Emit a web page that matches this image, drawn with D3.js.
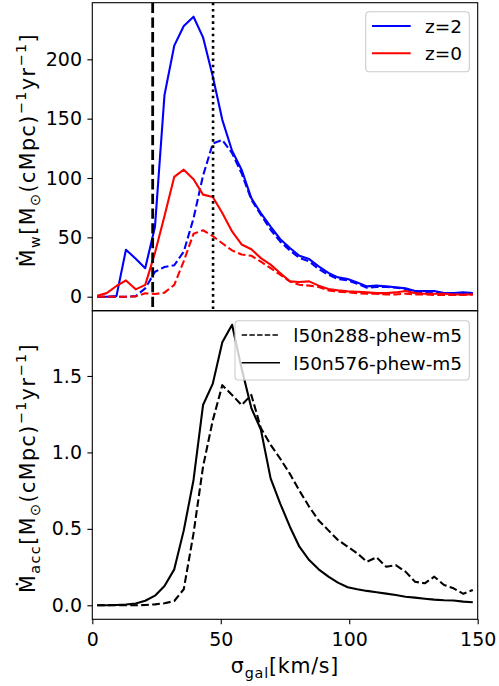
<!DOCTYPE html>
<html lang="en">
<head>
<meta charset="utf-8">
<title>Outflow and accretion rate vs sigma_gal</title>
<script src="https://d3js.org/d3.v7.min.js"></script>
<style>
  body { margin: 0; background: #fff; }
  svg text { font-family: "DejaVu Sans", sans-serif; fill: #000; }
</style>
</head>
<body>
<svg id="chart"></svg>
<script>

// bin centres of sigma_gal [km/s]
var sigmaGal = [1.9, 5.6, 9.4, 13.1, 16.9, 20.6, 24.4, 28.1, 31.9, 35.6,
                39.4, 43.1, 46.9, 50.6, 54.4, 58.1, 61.9, 65.6, 69.4, 73.1,
                76.9, 80.6, 84.4, 88.1, 91.9, 95.6, 99.4, 103.1, 106.9, 110.6,
                114.4, 118.1, 121.9, 125.6, 129.4, 133.1, 136.9, 140.6, 144.4, 148.1];

// top panel: wind rate, solid = l50n576, dashed = l50n288
var windZ2Hi = [0, 0, 0.5, 39.6, 32, 24, 59, 170, 211.5, 228,
                235.9, 218.5, 185.6, 149, 123, 107, 83, 70.5, 59, 48.6,
                41, 34.5, 31.7, 25.5, 20, 16.3, 14.9, 12, 8.7, 9.3,
                8.7, 8, 7, 4.8, 4.8, 4.8, 3.1, 3.1, 3.6, 3];
var windZ2Lo = [0, 0, 0, 0, 0.5, 7, 21, 25, 26.5, 38,
                66, 102, 129, 132, 121, 104, 81.7, 69, 56.4, 46.6,
                39, 32.6, 29.8, 23.3, 18.5, 14.9, 13.7, 11, 7.6, 8.2,
                8.2, 7.6, 6.5, 4.2, 3.6, 4.2, 2.5, 2.5, 2.5, 2.5];
var windZ0Hi = [0.8, 3, 9, 13.7, 6.2, 10, 37, 68, 101, 107,
                99, 86, 84, 70.5, 55, 44, 40, 32.5, 27, 20,
                12.9, 12.4, 12.9, 9.3, 6.5, 5.3, 4.5, 4.2, 3.6, 3,
                3, 3.6, 4.8, 3, 2.5, 2.5, 2.5, 1.9, 1.9, 1.9];
var windZ0Lo = [0, 0, 0, 0, 0.3, 2.8, 2.3, 3.4, 10, 30,
                53, 56, 51, 45, 39, 35.5, 34.5, 29.5, 24, 18.5,
                12.9, 10, 9.3, 8.2, 5.3, 4.2, 3.6, 3, 2.5, 2.5,
                1.9, 1.9, 2.5, 1.9, 1.9, 1.4, 1.4, 1.4, 1.4, 1.9];

// bottom panel: accretion rate
var accLo = [0, 0, 0, 0, 0, 0.002, 0.006, 0.013, 0.028, 0.105,
             0.47, 0.907, 1.21, 1.44, 1.376, 1.31, 1.376, 1.16, 1.05, 0.96,
             0.86, 0.75, 0.645, 0.555, 0.49, 0.427, 0.383, 0.34, 0.285, 0.314,
             0.252, 0.263, 0.22, 0.154, 0.144, 0.187, 0.133, 0.111, 0.075, 0.1];
var accHi = [0, 0, 0.002, 0.005, 0.012, 0.03, 0.063, 0.126, 0.235, 0.49,
             0.82, 1.31, 1.45, 1.72, 1.835, 1.55, 1.29, 1.15, 0.83, 0.667,
             0.514, 0.383, 0.296, 0.235, 0.187, 0.148, 0.118, 0.105, 0.094, 0.085,
             0.076, 0.067, 0.056, 0.05, 0.043, 0.037, 0.033, 0.031, 0.024, 0.02];

// reference sigma values marked in the top panel
var sigmaDashed = 23.5;
var sigmaDotted = 47.0;

var xTicks = [0, 50, 100, 150];
var windTicks = [0, 50, 100, 150, 200];
var accTicks = [0, 0.5, 1.0, 1.5];

var width = 499, height = 686;
var left = 92.3, right = 477.7;
var top1 = 2.7, mid = 310.7, bot2 = 619.3;
var blue = "#0000ff", red = "#ff0000";

var svg = d3.select("#chart").attr("width", width).attr("height", height);

var xScale = d3.scaleLinear().domain([0, 150]).range([left, right]);
var yWind = d3.scaleLinear().domain([-11.8, 247.7]).range([mid, top1]);
var yAcc = d3.scaleLinear().domain([-0.0917, 1.927]).range([bot2, mid]);

svg.append("clipPath").attr("id", "clipTop")
  .append("rect").attr("x", left).attr("y", top1)
  .attr("width", right - left).attr("height", mid - top1);
svg.append("clipPath").attr("id", "clipBot")
  .append("rect").attr("x", left).attr("y", mid)
  .attr("width", right - left).attr("height", bot2 - mid);

function drawLine(g, yScale, vals, color, lw, dash) {
  var line = d3.line()
    .x(function(d, i) { return xScale(sigmaGal[i]); })
    .y(function(d) { return yScale(d); });
  g.append("path")
    .datum(vals)
    .attr("d", line)
    .attr("fill", "none")
    .attr("stroke", color)
    .attr("stroke-width", lw)
    .attr("stroke-linejoin", "round")
    .attr("stroke-dasharray", dash || null);
}

// ---- top panel
var gTop = svg.append("g").attr("clip-path", "url(#clipTop)");
drawLine(gTop, yWind, windZ2Hi, blue, 2.1);
drawLine(gTop, yWind, windZ2Lo, blue, 2.1, "7.7,3.3");
drawLine(gTop, yWind, windZ0Hi, red, 2.1);
drawLine(gTop, yWind, windZ0Lo, red, 2.1, "7.7,3.3");

gTop.append("line")
  .attr("x1", xScale(sigmaDashed)).attr("x2", xScale(sigmaDashed))
  .attr("y1", top1).attr("y2", mid)
  .attr("stroke", "#000").attr("stroke-width", 2.8)
  .attr("stroke-dasharray", "10.3,4.4");
gTop.append("line")
  .attr("x1", xScale(sigmaDotted)).attr("x2", xScale(sigmaDotted))
  .attr("y1", top1).attr("y2", mid)
  .attr("stroke", "#000").attr("stroke-width", 2.6)
  .attr("stroke-dasharray", "2.6,3.6");

// ---- bottom panel
var gBot = svg.append("g").attr("clip-path", "url(#clipBot)");
drawLine(gBot, yAcc, accLo, "#000", 2.1, "7.7,3.3");
drawLine(gBot, yAcc, accHi, "#000", 2.1);

// ---- axes
function styleAxis(g) {
  g.select(".domain").remove();
  g.selectAll(".tick line").attr("stroke", "#000").attr("stroke-width", 1.1);
  g.selectAll(".tick text").attr("font-size", "19px")
    .attr("font-family", "DejaVu Sans").attr("fill", "#000");
}

svg.append("g")
  .attr("transform", "translate(" + left + ",0)")
  .call(d3.axisLeft(yWind).tickValues(windTicks).tickSize(4.9).tickPadding(5.4)
    .tickFormat(d3.format("d")))
  .call(styleAxis);

svg.append("g")
  .attr("transform", "translate(" + left + ",0)")
  .call(d3.axisLeft(yAcc).tickValues(accTicks).tickSize(4.9).tickPadding(5.4)
    .tickFormat(d3.format(".1f")))
  .call(styleAxis);

svg.append("g")
  .attr("transform", "translate(0," + bot2 + ")")
  .call(d3.axisBottom(xScale).tickValues(xTicks).tickSize(4.9).tickPadding(8.5)
    .tickFormat(d3.format("d")))
  .call(styleAxis);

// spines
[[top1, mid], [mid, bot2]].forEach(function(p) {
  svg.append("rect")
    .attr("x", left).attr("y", p[0])
    .attr("width", right - left).attr("height", p[1] - p[0])
    .attr("fill", "none").attr("stroke", "#000").attr("stroke-width", 1.1);
});

// ---- labels with sub/superscripts
function mathLabel(sel, parts, size) {
  var shift = 0;
  parts.forEach(function(p) {
    var target = p.sub ? size * 0.22 : p.sup ? -size * 0.42 : 0;
    sel.append("tspan")
      .attr("dy", target - shift)
      .attr("font-size", (p.sub || p.sup) ? size * 0.7 : size)
      .text(p.t);
    shift = target;
  });
}

var monoFont = "DejaVu Sans Mono";

var yLabTop = svg.append("text")
  .attr("transform", "translate(35,150) rotate(-90)")
  .attr("text-anchor", "middle")
  .attr("font-family", monoFont)
  .attr("letter-spacing", 1.5);
mathLabel(yLabTop, [
  {t: "Ṁ"}, {t: "w", sub: true}, {t: "[M"}, {t: "⊙", sub: true},
  {t: "(cMpc)"}, {t: "−1", sup: true}, {t: "yr"}, {t: "−1", sup: true}, {t: "]"}
], 20.5);

var yLabBot = svg.append("text")
  .attr("transform", "translate(35,468) rotate(-90)")
  .attr("text-anchor", "middle")
  .attr("font-family", monoFont)
  .attr("letter-spacing", 1.5);
mathLabel(yLabBot, [
  {t: "Ṁ"}, {t: "acc", sub: true}, {t: "[M"}, {t: "⊙", sub: true},
  {t: "(cMpc)"}, {t: "−1", sup: true}, {t: "yr"}, {t: "−1", sup: true}, {t: "]"}
], 20.5);

var xLab = svg.append("text")
  .attr("x", (left + right) / 2).attr("y", 673)
  .attr("text-anchor", "middle")
  .attr("font-family", monoFont)
  .attr("letter-spacing", 0.8);
mathLabel(xLab, [{t: "σ"}, {t: "gal", sub: true}, {t: "[km/s]"}], 20.5);

// ---- legends
function legend(x, y, w, h, items, lineX1, lineX2, textX, rows) {
  var g = svg.append("g");
  g.append("rect")
    .attr("x", x).attr("y", y).attr("width", w).attr("height", h)
    .attr("rx", 3.5)
    .attr("fill", "#fff").attr("fill-opacity", 0.8)
    .attr("stroke", "#cccccc").attr("stroke-width", 1.1);
  items.forEach(function(it, i) {
    g.append("line")
      .attr("x1", lineX1).attr("x2", lineX2)
      .attr("y1", rows[i]).attr("y2", rows[i])
      .attr("stroke", it.color).attr("stroke-width", it.lw)
      .attr("stroke-dasharray", it.dash || null);
    g.append("text")
      .attr("x", textX).attr("y", rows[i] + 7)
      .attr("font-size", "18.5px")
      .text(it.label);
  });
}

legend(365.7, 11.7, 103.6, 60, [
  {label: "z=2", color: blue, lw: 2.1},
  {label: "z=0", color: red, lw: 2.1}
], 372, 410.7, 425, [26, 53.3]);

legend(235, 320.7, 234.3, 59.3, [
  {label: "l50n288-phew-m5", color: "#000", lw: 1.6, dash: "5.4,2.3"},
  {label: "l50n576-phew-m5", color: "#000", lw: 1.6}
], 241.7, 280, 293.3, [335, 362.7]);

</script>
</body>
</html>
